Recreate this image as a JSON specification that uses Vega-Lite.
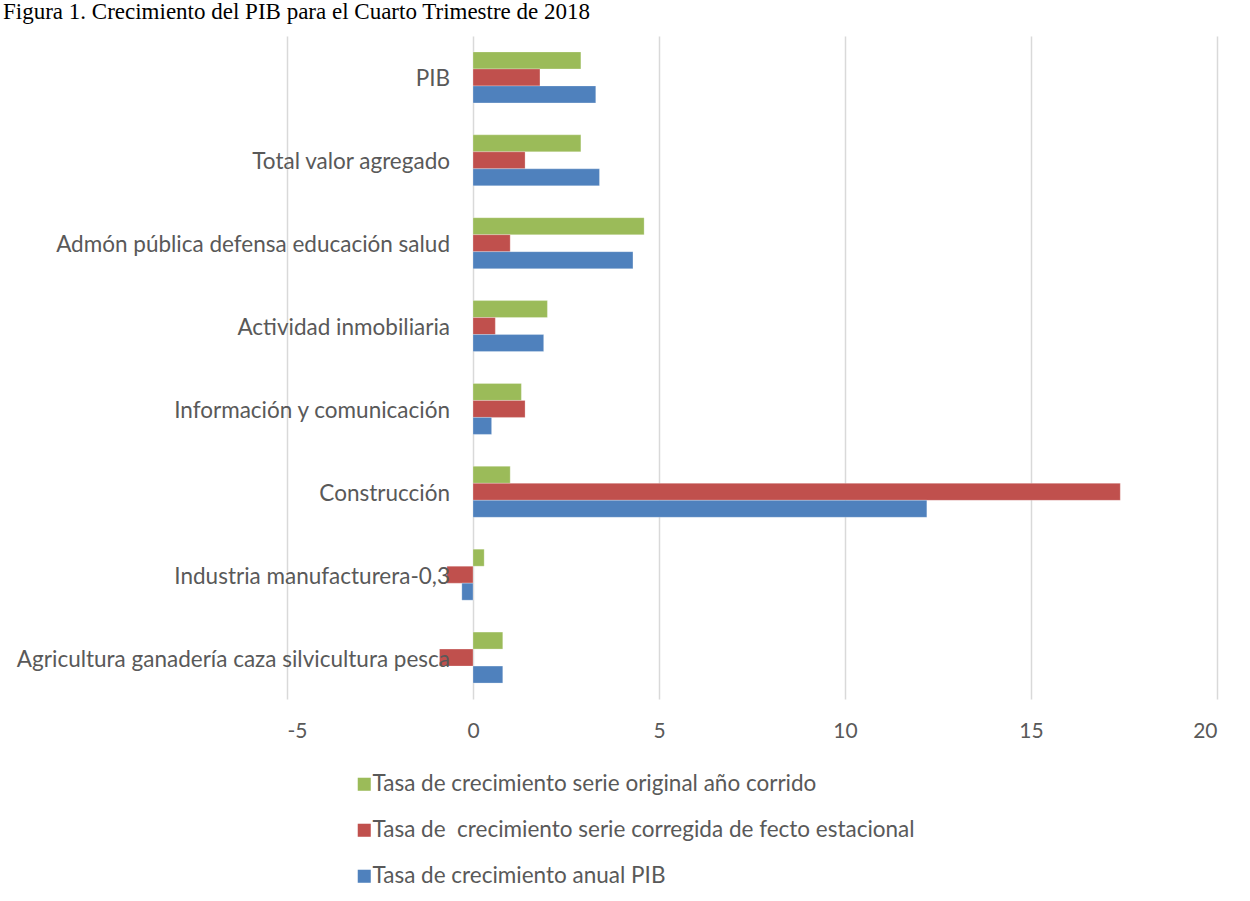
{
  "$schema": "https://vega.github.io/schema/vega-lite/v6.json",
  "autosize": "none",
  "width": 930,
  "height": 663,
  "padding": {"left": 287, "top": 36, "right": 33, "bottom": 202},
  "background": "white",
  "title": {
    "text": "Figura 1. Crecimiento del PIB para el Cuarto Trimestre de 2018",
    "anchor": "start",
    "frame": "group",
    "dx": -284,
    "offset": 0,
    "dy": 6,
    "baseline": "alphabetic",
    "font": "Liberation Serif",
    "fontSize": 23,
    "fontWeight": "normal",
    "color": "#000000"
  },
  "config": {
    "view": {"stroke": null},
    "font": "Lato"
  },
  "datasets": {
    "bars": [
      {"sector": "PIB", "serie": "Tasa de crecimiento serie original año corrido", "valor": 2.9},
      {"sector": "PIB", "serie": "Tasa de  crecimiento  serie corregida de fecto estacional", "valor": 1.8},
      {"sector": "PIB", "serie": "Tasa de crecimiento anual PIB", "valor": 3.3},
      {"sector": "Total valor agregado", "serie": "Tasa de crecimiento serie original año corrido", "valor": 2.9},
      {"sector": "Total valor agregado", "serie": "Tasa de  crecimiento  serie corregida de fecto estacional", "valor": 1.4},
      {"sector": "Total valor agregado", "serie": "Tasa de crecimiento anual PIB", "valor": 3.4},
      {"sector": "Admón pública defensa educación salud", "serie": "Tasa de crecimiento serie original año corrido", "valor": 4.6},
      {"sector": "Admón pública defensa educación salud", "serie": "Tasa de  crecimiento  serie corregida de fecto estacional", "valor": 1.0},
      {"sector": "Admón pública defensa educación salud", "serie": "Tasa de crecimiento anual PIB", "valor": 4.3},
      {"sector": "Actividad inmobiliaria", "serie": "Tasa de crecimiento serie original año corrido", "valor": 2.0},
      {"sector": "Actividad inmobiliaria", "serie": "Tasa de  crecimiento  serie corregida de fecto estacional", "valor": 0.6},
      {"sector": "Actividad inmobiliaria", "serie": "Tasa de crecimiento anual PIB", "valor": 1.9},
      {"sector": "Información y comunicación", "serie": "Tasa de crecimiento serie original año corrido", "valor": 1.3},
      {"sector": "Información y comunicación", "serie": "Tasa de  crecimiento  serie corregida de fecto estacional", "valor": 1.4},
      {"sector": "Información y comunicación", "serie": "Tasa de crecimiento anual PIB", "valor": 0.5},
      {"sector": "Construcción", "serie": "Tasa de crecimiento serie original año corrido", "valor": 1.0},
      {"sector": "Construcción", "serie": "Tasa de  crecimiento  serie corregida de fecto estacional", "valor": 17.4},
      {"sector": "Construcción", "serie": "Tasa de crecimiento anual PIB", "valor": 12.2},
      {"sector": "Industria manufacturera-0,3", "serie": "Tasa de crecimiento serie original año corrido", "valor": 0.3},
      {"sector": "Industria manufacturera-0,3", "serie": "Tasa de  crecimiento  serie corregida de fecto estacional", "valor": -0.7},
      {"sector": "Industria manufacturera-0,3", "serie": "Tasa de crecimiento anual PIB", "valor": -0.3},
      {"sector": "Agricultura ganadería caza silvicultura pesca", "serie": "Tasa de crecimiento serie original año corrido", "valor": 0.8},
      {"sector": "Agricultura ganadería caza silvicultura pesca", "serie": "Tasa de  crecimiento  serie corregida de fecto estacional", "valor": -0.9},
      {"sector": "Agricultura ganadería caza silvicultura pesca", "serie": "Tasa de crecimiento anual PIB", "valor": 0.8}
    ],
    "sectores": [
      {"sector": "PIB"},
      {"sector": "Total valor agregado"},
      {"sector": "Admón pública defensa educación salud"},
      {"sector": "Actividad inmobiliaria"},
      {"sector": "Información y comunicación"},
      {"sector": "Construcción"},
      {"sector": "Industria manufacturera-0,3"},
      {"sector": "Agricultura ganadería caza silvicultura pesca"}
    ]
  },
  "encoding": {
    "y": {
      "field": "sector",
      "type": "nominal",
      "sort": ["PIB", "Total valor agregado", "Admón pública defensa educación salud", "Actividad inmobiliaria", "Información y comunicación", "Construcción", "Industria manufacturera-0,3", "Agricultura ganadería caza silvicultura pesca"],
      "scale": {"paddingInner": 0.385, "paddingOuter": 0.1925},
      "axis": null
    }
  },
  "layer": [
    {
      "data": {"name": "bars"},
      "mark": {"type": "bar", "stroke": "white", "strokeOpacity": 0.5, "strokeWidth": 0.5},
      "encoding": {
        "x": {
          "field": "valor",
          "type": "quantitative",
          "scale": {"domain": [-5, 20], "nice": false, "zero": false},
          "axis": {
            "values": [-5, 0, 5, 10, 15, 20],
            "labelExpr": "datum.value + ''",
            "title": null,
            "domain": false,
            "ticks": false,
            "grid": true,
            "gridColor": "#D9D9D9",
            "gridWidth": 1.5,
            "labelColor": "#595959",
            "labelFontSize": 21,
            "labelFont": "Lato",
            "labelPadding": 21
          }
        },
        "yOffset": {
          "field": "serie",
          "type": "nominal",
          "sort": ["Tasa de crecimiento serie original año corrido", "Tasa de  crecimiento  serie corregida de fecto estacional", "Tasa de crecimiento anual PIB"]
        },
        "color": {
          "field": "serie",
          "type": "nominal",
          "scale": {
            "domain": ["Tasa de crecimiento serie original año corrido", "Tasa de  crecimiento  serie corregida de fecto estacional", "Tasa de crecimiento anual PIB"],
            "range": ["#9BBB59", "#C0504D", "#4F81BD"]
          },
          "legend": {
            "title": null,
            "orient": "none",
            "legendX": 66,
            "legendY": 737,
            "direction": "vertical",
            "symbolType": "square",
            "symbolSize": 170,
            "symbolStrokeWidth": 0,
            "labelFontSize": 22.5,
            "labelFont": "Lato",
            "labelColor": "#595959",
            "labelOffset": -3,
            "labelLimit": 800,
            "labelExpr": "replace(datum.label, '  ', ' \u00a0')",
            "rowPadding": 23
          }
        }
      }
    },
    {
      "data": {"name": "sectores"},
      "mark": {"type": "text", "align": "right", "baseline": "middle", "dx": -23, "dy": 2, "fontSize": 22.5, "font": "Lato", "color": "#595959"},
      "encoding": {
        "x": {"datum": 0},
        "text": {"field": "sector", "type": "nominal"}
      }
    }
  ]
}
